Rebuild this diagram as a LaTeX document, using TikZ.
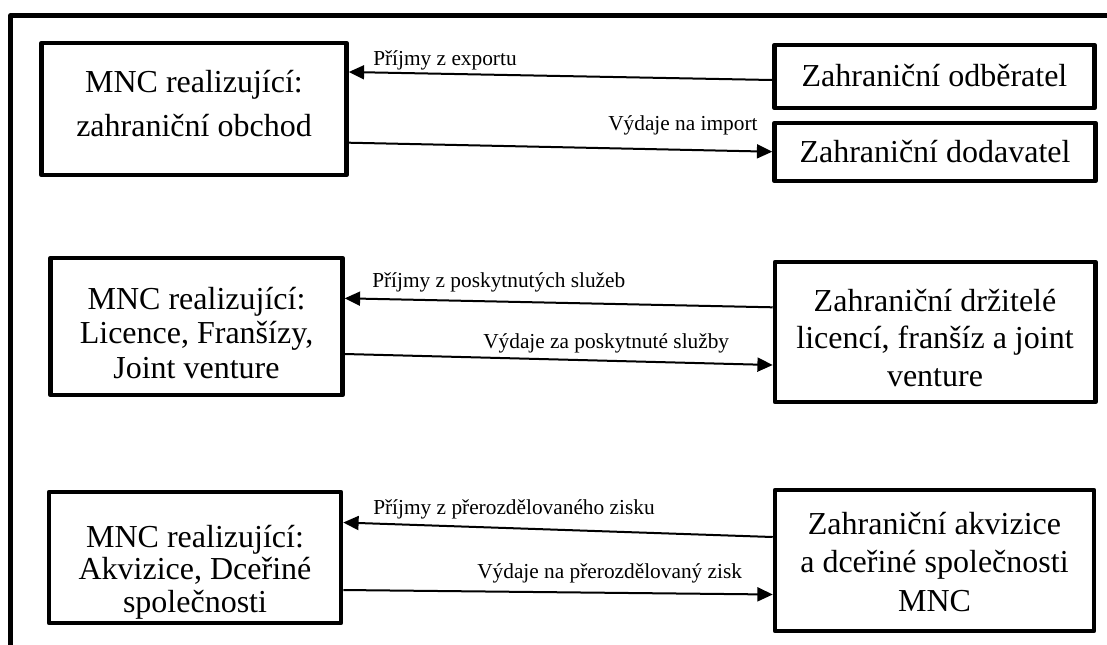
\documentclass[tikz,border=0pt]{standalone}
\usepackage{fontspec}
\setmainfont{Liberation Serif}
\usetikzlibrary{arrows.meta,calc}
\begin{document}
\begin{tikzpicture}[x=0.75pt,y=-0.75pt,
  box/.style={draw, line width=3.4pt, inner sep=0pt, line join=round},
  sz/.style 2 args={minimum width=#1*0.75pt, minimum height=#2*0.75pt},
  big/.style={align=center, inner sep=0pt, font=\fontsize{24}{#1}\selectfont},
  flow/.style={line width=1.5pt, -{Triangle[length=11.5pt,width=10.5pt]}},
  lbl/.style={anchor=base west, inner sep=0pt, font=\fontsize{16}{19}\selectfont}]
\useasboundingbox (0,0) rectangle (1107,644);
\clip (0,0) rectangle (1107,644);
% outer frame (runs past the right and bottom edges)
\draw[line width=3.4pt, line join=round] (10.5,15.5) rectangle (1125,665);

% boxes
\node[box, sz={305}{132}] (A1) at (194,109) {};
\node[box, sz={320}{63}]  (B1) at (934.5,76.5) {};
\node[box, sz={321}{58}]  (B2) at (935,152) {};
\node[box, sz={292}{137}] (A2) at (196.5,326.5) {};
\node[box, sz={320.5}{140}] (C2) at (935.25,332) {};
\node[box, sz={292}{131}] (A3) at (195,557.5) {};
\node[box, sz={319}{141}] (C3) at (934.5,560.5) {};

% box texts
\node[big=33pt] (A1t) at (194,104) {MNC realizující:\\zahraniční obchod};
\node[big=28pt] (B1t) at (934.5,76) {Zahraniční odběratel};
\node[big=28pt] (B2t) at (935,152) {Zahraniční dodavatel};
\node[big=26pt] (A2t) at (196.5,333) {MNC realizující:\\Licence, Franšízy,\\Joint venture};
\node[big=28pt] (C2t) at (935,338) {Zahraniční držitelé\\licencí, franšíz a joint\\venture};
\node[big=24.5pt] (A3t) at (195,572) {MNC realizující:\\Akvizice, Dceřiné\\společnosti};
\node[big=29pt] (C3t) at (934.5,562) {Zahraniční akvizice\\a dceřiné společnosti\\MNC};

% flows
\draw[flow] ($(B1.west)+(0,3.5)$) -- ($(A1.east)+(0,-37)$);
\draw[flow] ($(A1.east)+(0,33.7)$) -- ($(B2.west)+(0,-0.3)$);
\draw[flow] ($(C2.west)+(0,-24.7)$) -- ($(A2.east)+(0,-28.2)$);
\draw[flow] ($(A2.east)+(0,27.5)$) -- ($(C2.west)+(0,33)$);
\draw[flow] ($(C3.west)+(0,-23.5)$) -- ($(A3.east)+(0,-35)$);
\draw[flow] ($(A3.east)+(0,32.5)$) -- ($(C3.west)+(0,34)$);

% flow labels
\node[lbl] (L1) at (373,65)  {Příjmy z exportu};
\node[lbl] (L2) at (608,130) {Výdaje na import};
\node[lbl] (L3) at (372,287) {Příjmy z poskytnutých služeb};
\node[lbl] (L4) at (483,348) {Výdaje za poskytnuté služby};
\node[lbl] (L5) at (373,514) {Příjmy z přerozdělovaného zisku};
\node[lbl] (L6) at (477,578) {Výdaje na přerozdělovaný zisk};
\end{tikzpicture}
\end{document}
